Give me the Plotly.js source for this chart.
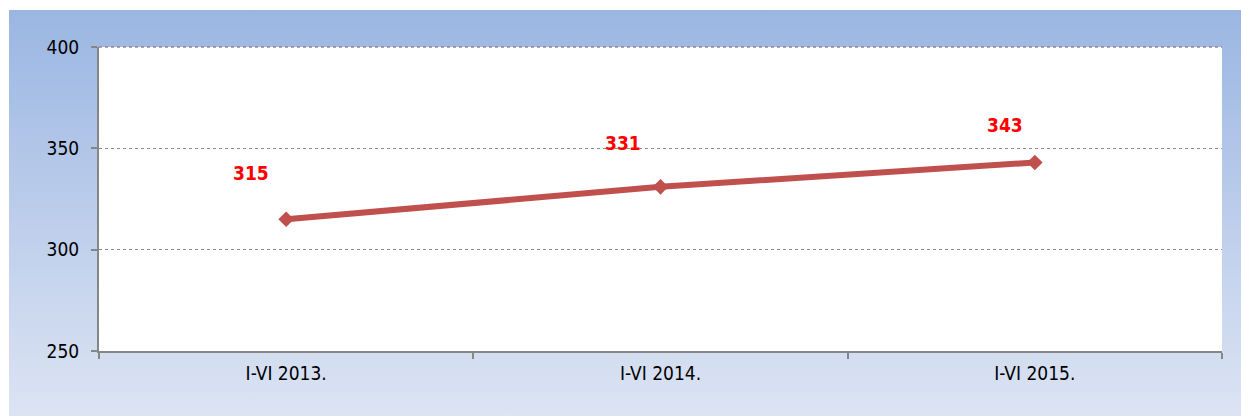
<!DOCTYPE html>
<html>
<head>
<meta charset="utf-8">
<script src="https://cdn.plot.ly/plotly-3.0.1.min.js"></script>
<style>
  html, body { margin: 0; padding: 0; background: #ffffff; }
  #wrap { position: relative; width: 1241px; height: 416px; }
  #bg { position: absolute; left: 9px; top: 10px; width: 1232px; height: 406px;
        background: linear-gradient(to bottom, #9AB6E2 0%, #BCCDEB 50%, #DCE4F3 100%); }
  #chart { position: absolute; left: 0; top: 0; width: 1241px; height: 416px; }
</style>
</head>
<body>
<div id="wrap">
  <div id="bg"></div>
  <div id="chart"></div>
</div>
<script>
const categories = ["I-VI 2013.", "I-VI 2014.", "I-VI 2015."];
const values = [315, 331, 343];
const yTicks = [250, 300, 350, 400];

const FONT = "'DejaVu Sans Condensed', 'DejaVu Sans', sans-serif";

const trace = {
  x: categories,
  y: values,
  type: "scatter",
  mode: "lines+markers",
  line: { color: "#C0504D", width: 6 },
  marker: { symbol: "diamond", size: 12, color: "#C0504D" },
  hoverinfo: "x+y",
  showlegend: false
};

const labelShiftX = [-35, -38, -30];
const labelShiftY = [46, 44, 38];

const annotations = categories.map((c, i) => ({
  x: c, y: values[i], xref: "x", yref: "y",
  text: String(values[i]), showarrow: false,
  xshift: labelShiftX[i], yshift: labelShiftY[i],
  font: { family: FONT, size: 19, color: "#FF0000", weight: "bold" }
}));

const layout = {
  width: 1241, height: 416,
  margin: { l: 99, r: 19, t: 47, b: 65 },
  paper_bgcolor: "rgba(0,0,0,0)",
  plot_bgcolor: "#FFFFFF",
  font: { family: FONT, size: 19, color: "#000000" },
  xaxis: {
    type: "category",
    range: [-0.5, 2.5],
    showline: true, linecolor: "#868686", linewidth: 2,
    ticks: "outside", tickson: "boundaries", ticklen: 6, tickwidth: 2, tickcolor: "#868686",
    showgrid: false, zeroline: false,
    ticklabelstandoff: 4,
    tickfont: { family: FONT, size: 19, color: "#000000" }
  },
  yaxis: {
    range: [250, 400],
    tickvals: yTicks,
    ticktext: yTicks.map(String),
    showline: true, linecolor: "#868686", linewidth: 2,
    ticks: "outside", ticklen: 6, tickwidth: 2, tickcolor: "#868686",
    showgrid: true, gridcolor: "#8C8C8C", gridwidth: 1, griddash: "dot",
    zeroline: false,
    ticklabelstandoff: 8,
    tickfont: { family: FONT, size: 19, color: "#000000" }
  },
  shapes: [{
    type: "line", xref: "paper", yref: "paper",
    x0: 0, x1: 1, y0: 1, y1: 1,
    line: { color: "#8C8C8C", width: 1.5, dash: "dot" }, layer: "above"
  }],
  annotations: annotations
};

Plotly.newPlot("chart", [trace], layout, { displayModeBar: false });
</script>
</body>
</html>
